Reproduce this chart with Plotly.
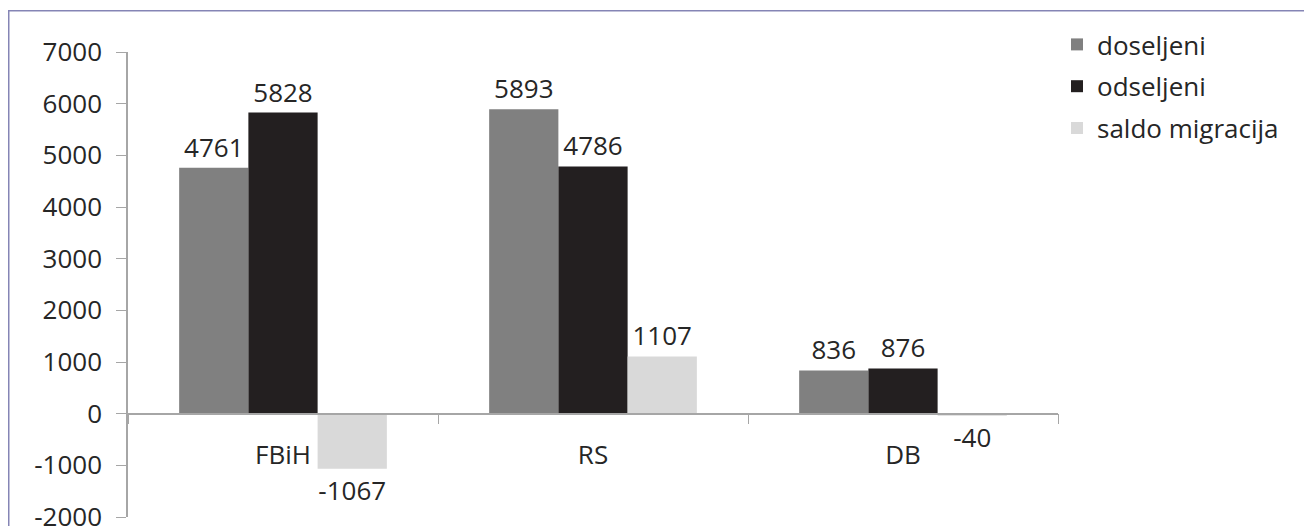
import plotly.graph_objects as go

categories = ["FBiH", "RS", "DB"]
doseljeni = [4761, 5893, 836]
odseljeni = [5828, 4786, 876]
saldo = [-1067, 1107, -40]
series_names = ["doseljeni", "odseljeni", "saldo migracija"]
colors = ["#808080", "#231f20", "#d9d9d9"]
y_ticks = [-2000, -1000, 0, 1000, 2000, 3000, 4000, 5000, 6000, 7000]
y_tick_labels = ["-2000", "-1000", "0", "1000", "2000", "3000", "4000", "5000", "6000", "7000"]

FONT = "Open Sans"
TXT = "#262626"
FS = 26

fig = go.Figure()
for name, vals, col in zip(series_names, [doseljeni, odseljeni, saldo], colors):
    fig.add_trace(go.Bar(
        x=categories, y=vals, name=name, legendgroup=name,
        marker=dict(color=col, line=dict(width=0)),
        text=[str(v) for v in vals], textposition="outside",
        textfont=dict(family=FONT, size=FS, color=TXT),
        cliponaxis=False,
    ))

# page has an 8px body margin; figure coordinates are page coords - 8
OFF = 8
W, H = 1312 - OFF, 526 - OFF
L, T = 128 - OFF, 52 - OFF
plot_bottom = 517 - OFF
plot_right = 1058 - OFF
R, B = W - plot_right, H - plot_bottom
pw, ph = plot_right - L, plot_bottom - T


def px(xp):
    return (xp - OFF - L) / pw


def py(yp):
    return (plot_bottom - (yp - OFF)) / ph


fig.update_layout(
    width=W, height=H,
    margin=dict(l=L, r=R, t=T, b=B, autoexpand=False),
    paper_bgcolor="white", plot_bgcolor="white",
    barmode="group", bargap=0.33, bargroupgap=0,
    font=dict(family=FONT, size=FS, color=TXT),
    showlegend=True,
    legend=dict(
        x=px(1057), y=py(21), xanchor="left", yanchor="top",
        font=dict(family=FONT, size=FS, color=TXT),
        traceorder="grouped", tracegroupgap=5,
        bgcolor="rgba(0,0,0,0)", itemwidth=30,
    ),
    xaxis=dict(
        anchor="free", position=2 / 9, automargin=False,
        showline=True, linecolor="#a6a6a6", linewidth=1.5,
        ticks="outside", tickson="boundaries", ticklen=10, tickcolor="#a6a6a6",
        showgrid=False, zeroline=False,
        ticklabelstandoff=18,
        tickfont=dict(family=FONT, size=FS, color=TXT),
    ),
    yaxis=dict(
        range=[-2000, 7000], tickvals=y_ticks, ticktext=y_tick_labels,
        automargin=False,
        showline=True, linecolor="#a6a6a6", linewidth=1.5,
        ticks="outside", ticklen=10, tickcolor="#a6a6a6",
        showgrid=False, zeroline=False,
        ticklabelstandoff=9, ticklabeloverflow="allow",
        tickfont=dict(family=FONT, size=FS, color=TXT),
    ),
    shapes=[dict(
        type="rect", xref="paper", yref="paper",
        x0=px(8.75), x1=px(1330),
        y0=py(540), y1=py(10.75),
        line=dict(color="#8585b5", width=1.5), fillcolor="rgba(0,0,0,0)",
        layer="below",
    )],
)

fig.write_html("out.html")
